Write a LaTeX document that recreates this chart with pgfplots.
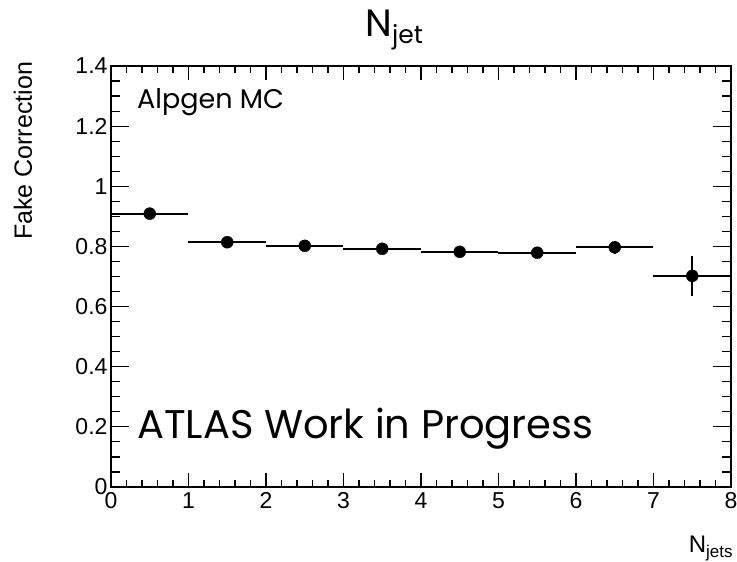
\documentclass[border=0pt]{standalone}
\usepackage{fontspec}
\setmainfont{Liberation Sans}
\newfontfamily\geo{Poppins}
\usepackage{pgfplots}
\usepackage{pgfplotstable}
\pgfplotsset{compat=1.18}

% fake correction per jet multiplicity bin
\pgfplotstableread{
x    y      ex   ey
0.5  0.909  0.5  0.005
1.5  0.814  0.5  0.005
2.5  0.802  0.5  0.006
3.5  0.792  0.5  0.006
4.5  0.782  0.5  0.007
5.5  0.779  0.5  0.008
6.5  0.797  0.5  0.021
7.5  0.702  0.5  0.066
}\fakecorr

\begin{document}
\begin{tikzpicture}[x=1pt,y=1pt]
\useasboundingbox (-111,-75) rectangle (626,487);
\begin{axis}[
  at={(0,0)}, anchor=south west,
  scale only axis, width=620pt, height=421pt,
  xmin=0, xmax=8, ymin=0, ymax=1.4,
  xtick={0,1,...,8}, ytick={0,0.2,...,1.4},
  minor x tick num=4, minor y tick num=3,
  tick align=inside,
  major tick length=14pt, minor tick length=7pt,
  every major y tick/.append style={/pgfplots/major tick length=18pt},
  every minor y tick/.append style={/pgfplots/minor tick length=9pt},
  every tick/.style={black, line width=1.2pt},
  axis line style={line width=1.6pt},
  ticklabel style={font=\fontsize{23}{26}\selectfont},
  /pgf/number format/assume math mode=true,
  yticklabel style={/pgf/number format/fixed, /pgf/number format/precision=1},
  xticklabel style={yshift=-2pt},
  clip=false,
]
\addplot[black, only marks, mark=*, mark size=6pt,
  mark options={solid, fill=black},
  error bars/.cd, x dir=both, x explicit, y dir=both, y explicit,
  error mark=none, error bar style={line width=2pt, black}]
  table[x=x, y=y, x error=ex, y error=ey] {\fakecorr};

\node[anchor=base west, font=\geo\fontsize{38}{44}\selectfont, inner sep=0pt]
  at (axis description cs:0.41,1.069) {N\raisebox{-0.33ex}{\fontsize{25}{30}\selectfont jet}};
\node[anchor=east, rotate=90, font=\fontsize{25}{28}\selectfont, inner sep=0pt]
  at (axis description cs:-0.142,1.01) {Fake Correction};
\node[anchor=base east, font=\fontsize{24}{28}\selectfont, inner sep=0pt]
  at (axis description cs:1.003,-0.155) {N\raisebox{-0.45ex}{\fontsize{17}{20}\selectfont jets}};
\node[anchor=base west, font=\geo\fontsize{27}{32}\selectfont, inner sep=0pt]
  at (axis description cs:0.042,0.898) {Alpgen MC};
\node[anchor=base west, font=\geo\fontsize{40}{46}\selectfont, inner sep=0pt]
  at (axis description cs:0.042,0.116) {ATLAS Work in Progress};
\end{axis}
\end{tikzpicture}
\end{document}
